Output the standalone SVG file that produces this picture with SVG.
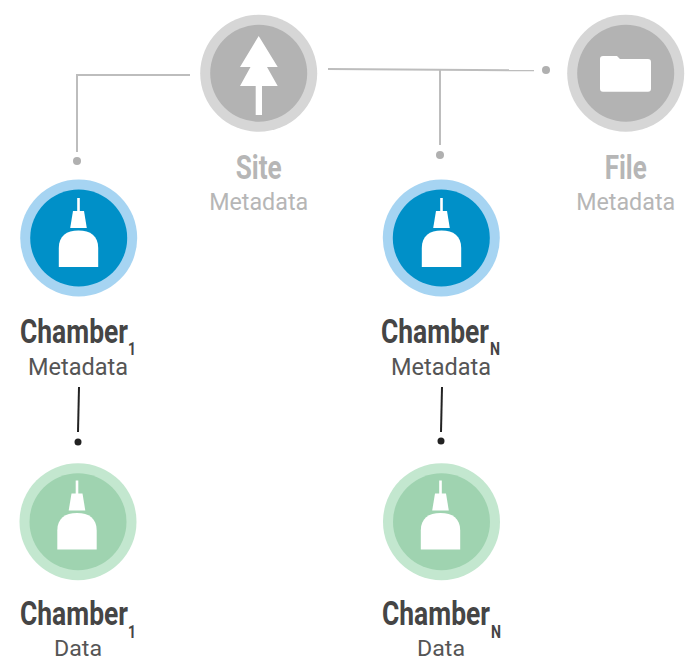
<svg xmlns="http://www.w3.org/2000/svg" width="687" height="660" viewBox="0 0 687 660">
<style>
.t{font-family:"Roboto","Liberation Sans",sans-serif;font-weight:700;font-size:34px}
.s{font-family:"Roboto","Liberation Sans",sans-serif;font-size:23px}
.d{font-family:"Roboto","Liberation Sans",sans-serif;font-size:21.500px}
.n{font-family:"Roboto","Liberation Sans",sans-serif;font-weight:700;font-size:18px}
.dk{fill:#454545}.md{fill:#555}.lt{fill:#b6b6b6}
.g{fill:none;stroke:#bdbdbd;stroke-width:2}
.b{fill:none;stroke:#222;stroke-width:2}
.gd{fill:#b0b0b0}.bd{fill:#222}
</style>
<defs>
<g id="bottle" fill="#fff">
<rect x="-1.300" y="-40" width="2.600" height="14"/>
<path d="M-5.500-27H5.500L8.300-10H-8.300Z"/>
<path d="M-19.700 29V10C-19.700-2-12-7.500 0-7.500S19.700-2 19.700 10V29Z"/>
</g>
</defs>
<g id="connectors">
<path class="g" d="M190 75H77V152"/>
<circle class="gd" cx="77" cy="161" r="4"/>
<path class="g" d="M328 69L534 70.300"/>
<circle class="gd" cx="546" cy="70" r="4"/>
<path class="g" d="M440 69V145"/>
<circle class="gd" cx="440" cy="155" r="4"/>
<path class="b" d="M79 387L78 432"/>
<circle class="bd" cx="78" cy="442" r="3.500"/>
<path class="b" d="M442 387L441 432"/>
<circle class="bd" cx="441" cy="441" r="3.500"/>
</g>
<g id="site">
<circle cx="258.700" cy="73.300" r="58.500" fill="#d6d6d6"/>
<circle cx="258.700" cy="73.300" r="48.500" fill="#b3b3b3"/>
<path fill="#fff" d="M258.700 36L277.700 67H267L277.700 86H262V115H255.700V86H240L250.500 67H240Z"/>
<text class="t lt" x="258.700" y="178.500" text-anchor="middle" textLength="46" lengthAdjust="spacingAndGlyphs">Site</text>
<text class="s lt" x="258.700" y="209.500" text-anchor="middle" textLength="99" lengthAdjust="spacingAndGlyphs">Metadata</text>
</g>
<g id="file">
<circle cx="625.700" cy="73.300" r="58.500" fill="#d6d6d6"/>
<circle cx="625.700" cy="73.300" r="48.500" fill="#b3b3b3"/>
<path fill="#fff" d="M603 56H617L620 59H648Q651 59 651 62V88.500Q651 91.700 648 91.700H603Q600 91.700 600 88.500V59Q600 56 603 56Z"/>
<text class="t lt" x="625.700" y="178.500" text-anchor="middle" textLength="42" lengthAdjust="spacingAndGlyphs">File</text>
<text class="s lt" x="625.700" y="209.500" text-anchor="middle" textLength="99" lengthAdjust="spacingAndGlyphs">Metadata</text>
</g>
<g id="chamber1-metadata">
<circle cx="78.700" cy="238" r="58.500" fill="#a6d4f2"/>
<circle cx="78.700" cy="238" r="48.500" fill="#0090c8"/>
<use href="#bottle" x="78.500" y="238"/>
<text class="t dk" x="20" y="343" textLength="108" lengthAdjust="spacingAndGlyphs">Chamber</text>
<text class="n dk" x="128" y="355" textLength="8" lengthAdjust="spacingAndGlyphs">1</text>
<text class="s md" x="78" y="375" text-anchor="middle" textLength="100" lengthAdjust="spacingAndGlyphs">Metadata</text>
</g>
<g id="chamberN-metadata">
<circle cx="441.300" cy="238" r="58.500" fill="#a6d4f2"/>
<circle cx="441.300" cy="238" r="48.500" fill="#0090c8"/>
<use href="#bottle" x="441.500" y="238"/>
<text class="t dk" x="381" y="343" textLength="108" lengthAdjust="spacingAndGlyphs">Chamber</text>
<text class="n dk" x="490" y="355" textLength="10" lengthAdjust="spacingAndGlyphs">N</text>
<text class="s md" x="441" y="375" text-anchor="middle" textLength="100" lengthAdjust="spacingAndGlyphs">Metadata</text>
</g>
<g id="chamber1-data">
<circle cx="78" cy="521.700" r="58.500" fill="#c3e7cf"/>
<circle cx="78" cy="521.700" r="48.500" fill="#9fd3b0"/>
<use href="#bottle" x="77" y="520.500"/>
<text class="t dk" x="20" y="625" textLength="108" lengthAdjust="spacingAndGlyphs">Chamber</text>
<text class="n dk" x="128" y="638" textLength="8" lengthAdjust="spacingAndGlyphs">1</text>
<text class="d md" x="78" y="655.500" text-anchor="middle" textLength="48" lengthAdjust="spacingAndGlyphs">Data</text>
</g>
<g id="chamberN-data">
<circle cx="441.500" cy="521.700" r="58.500" fill="#c3e7cf"/>
<circle cx="441.500" cy="521.700" r="48.500" fill="#9fd3b0"/>
<use href="#bottle" x="440.500" y="520.500"/>
<text class="t dk" x="382" y="625" textLength="108" lengthAdjust="spacingAndGlyphs">Chamber</text>
<text class="n dk" x="491" y="638" textLength="10" lengthAdjust="spacingAndGlyphs">N</text>
<text class="d md" x="441" y="655.500" text-anchor="middle" textLength="48" lengthAdjust="spacingAndGlyphs">Data</text>
</g>
</svg>
